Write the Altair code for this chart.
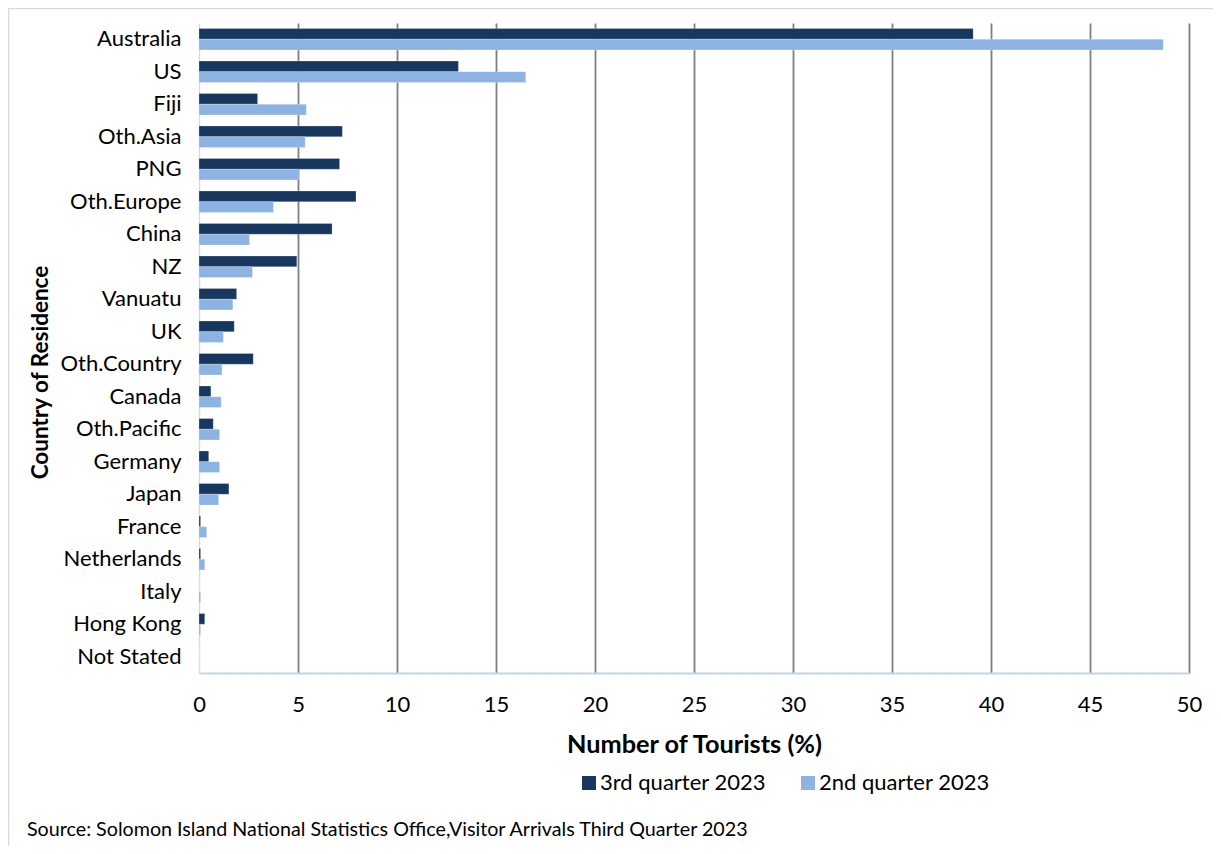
import altair as alt
import pandas as pd

countries = ["Australia", "US", "Fiji", "Oth.Asia", "PNG", "Oth.Europe", "China", "NZ",
             "Vanuatu", "UK", "Oth.Country", "Canada", "Oth.Pacific", "Germany", "Japan",
             "France", "Netherlands", "Italy", "Hong Kong", "Not Stated"]
q3_2023 = [39.1, 13.1, 2.96, 7.24, 7.1, 7.93, 6.72, 4.94,
           1.9, 1.78, 2.74, 0.6, 0.72, 0.49, 1.51,
           0.08, 0.08, 0.0, 0.29, 0.0]
q2_2023 = [48.7, 16.5, 5.42, 5.36, 5.04, 3.76, 2.55, 2.7,
           1.71, 1.23, 1.16, 1.12, 1.04, 1.04, 0.99,
           0.39, 0.29, 0.08, 0.08, 0.0]
series = ["3rd quarter 2023", "2nd quarter 2023"]
colors = ["#17375e", "#8db3e2"]
x_ticks = [0, 5, 10, 15, 20, 25, 30, 35, 40, 45, 50]
source_note = ["Source: Solomon Island National Statistics Office,Visitor Arrivals Third Quarter 2023"]

rows = []
for c, a, b in zip(countries, q3_2023, q2_2023):
    rows.append({"country": c, "series": series[0], "value": a})
    rows.append({"country": c, "series": series[1], "value": b})
df = pd.DataFrame(rows)

FONT = "Lato"
W, H = 990, 650
PL, PT = 191, 15

bars = alt.Chart(df).mark_bar(stroke="white", strokeWidth=0.4, strokeOpacity=0.6).encode(
    y=alt.Y("country:N", sort=countries,
            scale=alt.Scale(paddingInner=0.34, paddingOuter=0.17),
            axis=alt.Axis(title="Country of Residence", labelFontSize=22, labelFont=FONT,
                          labelColor="#000000", labelPadding=18, ticks=False,
                          domainColor="#d9d9d9", domainWidth=1.5,
                          titleFont=FONT, titleFontSize=22.5, titleFontWeight="bold",
                          titleColor="#000000", titleAngle=-90,
                          titleX=40 - 199, titleY=372 - 23,
                          titleAlign="center", titleBaseline="middle")),
    yOffset=alt.YOffset("series:N", sort=series, scale=alt.Scale(paddingInner=0, paddingOuter=0)),
    x=alt.X("value:Q", scale=alt.Scale(domain=[0, 50], nice=False),
            axis=alt.Axis(title="Number of Tourists (%)", values=x_ticks,
                          labelFontSize=22, labelFont=FONT, labelColor="#000000",
                          labelPadding=21, ticks=False, labelFlush=False,
                          domainColor="#c4d5ea", domainWidth=2,
                          grid=True,
                          gridColor=alt.condition("datum.value == 0", alt.value("transparent"), alt.value("#7f7f7f")),
                          gridWidth=1.8,
                          titleFont=FONT, titleFontSize=25.3, titleFontWeight="bold",
                          titleColor="#000000", titleY=744 - 673, titleBaseline="middle")),
    color=alt.Color("series:N", sort=series,
                    scale=alt.Scale(domain=series, range=colors),
                    legend=alt.Legend(title=None, orient="none", direction="horizontal",
                                      legendX=578 - 199, legendY=772 - 23,
                                      symbolType="square", symbolSize=196,
                                      symbolStrokeWidth=0, symbolOpacity=1,
                                      labelFontSize=22, labelFont=FONT, labelColor="#000000",
                                      labelLimit=400, labelOffset=0, columnPadding=31)),
)

note = alt.Chart(pd.DataFrame({"t": source_note})).mark_text(
    align="left", baseline="middle", fontSize=19.7, font=FONT, color="#000000"
).encode(text="t:N", x=alt.value(27 - 199), y=alt.value(830 - 23))

frame = alt.Chart(pd.DataFrame({"k": [1]})).mark_rect(
    fill="transparent", stroke="#d9d9d9", strokeWidth=1.5, clip=False
).encode(x=alt.value(-PL + 0.5), x2=alt.value(1300), y=alt.value(-PT + 0.5), y2=alt.value(1000))

chart = alt.layer(frame, bars, note).properties(
    width=W, height=H,
    autosize=alt.AutoSizeParams(type="none"),
    padding={"left": PL, "top": PT, "right": 24, "bottom": 838 - PT - H},
    background="white",
).configure_view(stroke=None)

chart.save("out.html", embed_options={"renderer": "svg", "actions": False})
